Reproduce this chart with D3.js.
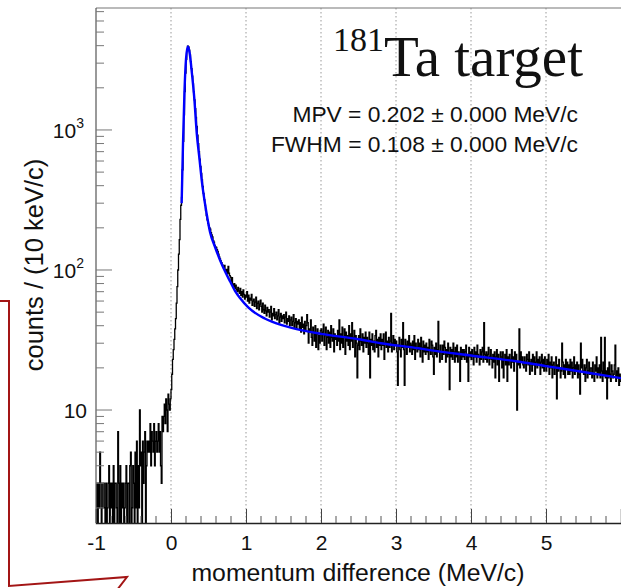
<!DOCTYPE html>
<html>
<head>
<meta charset="utf-8">
<script src="https://cdn.jsdelivr.net/npm/d3@7"></script>
<style>
  body { margin: 0; background: white; }
  svg { display: block; }
</style>
</head>
<body>
<div id="chart"></div>
<script>

// histogram: 10 keV/c bins starting at -1 MeV/c (counts)
const binStart = -1.0;
const binWidth = 0.01;

// -1.0 ... -0.01
const countsBelow = [
    2, 3, 1, 3, 2, 5, 3, 0, 2, 3,
    3, 2, 0, 3, 1, 2, 3, 4, 1, 3,
    2, 3, 1, 4, 0, 3, 3, 2, 1, 7,
    3, 1, 4, 0, 3, 2, 3, 0, 2, 3,
    4, 1, 3, 3, 0, 4, 5, 1, 2, 4,
    3, 1, 5, 2, 6, 0, 4, 2, 10, 4,
    5, 1, 6, 3, 5, 7, 0, 4, 6, 5,
    6, 5, 8, 4, 7, 6, 5, 8, 4, 6,
    7, 5, 6, 8, 5, 7, 4, 3, 9, 7,
    9, 11, 8, 12, 10, 7, 13, 11, 10, 12
];

// 0.00 ... 0.49
const countsPeak = [
    14, 18, 23, 27, 32, 38, 45, 58, 76, 100,
    130, 165, 230, 290, 330, 520, 830, 1280, 1880, 2550,
    3200, 3680, 3960, 3920, 3720, 3430, 3080, 2740, 2420, 2130,
    1870, 1640, 1420, 1230, 1060, 920, 800, 700, 620, 550,
    490, 440, 395, 352, 318, 290, 265, 245, 228, 215
];

// 0.50 ... 1.99
const countsTail = [
    208, 200, 196, 185, 178, 172, 162, 158, 150, 146,
    145, 140, 136, 130, 124, 120, 116, 113, 109, 106,
    103, 108, 100, 97, 101, 94, 106, 95, 91, 89,
    82, 88, 79, 76, 80, 74, 78, 72, 70, 75,
    71, 68, 74, 66, 70, 64, 72, 67, 62, 66,
    64, 70, 60, 66, 58, 63, 61, 67, 56, 60,
    62, 55, 59, 64, 53, 58, 60, 52, 57, 61,
    55, 50, 58, 52, 49, 56, 51, 47, 54, 50,
    52, 46, 50, 55, 44, 49, 47, 53, 45, 48,
    50, 44, 47, 52, 42, 46, 49, 43, 47, 45,
    48, 42, 46, 50, 41, 45, 43, 47, 40, 44,
    46, 40, 43, 48, 39, 42, 45, 38, 43, 41,
    44, 38, 42, 36, 46, 39, 41, 35, 43, 37,
    40, 48, 42, 30, 38, 36, 44, 33, 29, 39,
    36, 31, 40, 28, 35, 38, 27, 34, 30, 37
];

// 2.00 ... 5.99
const countsFlat = [
    38, 31, 36, 41, 29, 34, 39, 27, 33, 37,
    30, 36, 28, 40, 33, 31, 38, 26, 35, 32,
    34, 29, 37, 31, 44, 27, 35, 30, 39, 28,
    33, 38, 25, 36, 31, 34, 29, 40, 27, 35,
    31, 42, 28, 33, 37, 24, 34, 30, 17, 29,
    34, 27, 38, 31, 29, 35, 26, 33, 30, 36,
    28, 33, 30, 25, 36, 17, 32, 29, 35, 27,
    31, 26, 34, 37, 28, 32, 24, 33, 29, 35,
    27, 32, 29, 35, 23, 30, 36, 28, 31, 26,
    33, 28, 31, 49, 26, 30, 34, 27, 32, 29,
    31, 26, 15, 29, 33, 27, 24, 32, 28, 42,
    27, 15, 32, 29, 25, 31, 28, 34, 26, 30,
    29, 25, 31, 27, 34, 23, 30, 28, 26, 32,
    27, 30, 24, 33, 28, 22, 31, 26, 29, 25,
    30, 26, 28, 23, 32, 27, 25, 31, 29, 24,
    18, 28, 25, 30, 24, 27, 43, 26, 22, 29,
    26, 23, 29, 25, 31, 28, 22, 27, 24, 30,
    25, 14, 28, 24, 27, 23, 30, 26, 22, 28,
    24, 29, 22, 26, 25, 16, 28, 23, 27, 24,
    27, 23, 26, 29, 22, 25, 16, 28, 24, 26,
    23, 27, 25, 21, 28, 24, 26, 22, 29, 25,
    24, 21, 27, 23, 26, 28, 22, 42, 25, 23,
    26, 22, 25, 28, 21, 24, 27, 23, 20, 25,
    22, 26, 17, 24, 27, 21, 25, 16, 23, 26,
    24, 20, 26, 17, 23, 25, 21, 27, 16, 24,
    21, 25, 23, 20, 27, 22, 24, 19, 26, 23,
    25, 10, 22, 21, 38, 20, 26, 22, 24, 21,
    20, 24, 22, 19, 25, 23, 21, 26, 18, 22,
    23, 19, 25, 21, 24, 18, 22, 26, 20, 23,
    21, 24, 18, 22, 25, 20, 23, 19, 24, 21,
    19, 23, 21, 25, 18, 22, 20, 24, 17, 21,
    22, 18, 20, 24, 12, 21, 19, 23, 20, 17,
    19, 30, 22, 18, 21, 17, 23, 20, 22, 18,
    21, 18, 23, 19, 22, 17, 20, 24, 18, 21,
    19, 22, 17, 21, 18, 13, 30, 20, 23, 19,
    18, 21, 16, 20, 23, 17, 19, 22, 18, 20,
    20, 17, 22, 18, 16, 21, 19, 24, 17, 20,
    18, 21, 17, 33, 19, 16, 22, 18, 33, 17,
    19, 12, 20, 17, 22, 18, 16, 21, 19, 17,
    18, 21, 29, 16, 19, 17, 20, 15, 18, 16
];

// fitted curve (blue)
const fitX = [0.142, 0.16, 0.18, 0.20, 0.225, 0.25, 0.28, 0.31, 0.343, 0.38, 0.409, 0.476, 0.52, 0.587,
              0.653, 0.72, 0.787, 0.853, 0.92, 1.03, 1.25, 1.5, 1.75, 2.0, 2.5, 2.8, 3.3, 3.45, 4.0,
              4.6, 5.0, 5.5, 6.0];
const fitY = [300, 800, 1900, 3200, 3950, 3500, 2500, 1700, 950, 620, 440, 251, 187, 146,
              118, 98, 83, 71, 63, 54, 45, 40, 37, 35, 32, 30, 27.6, 26.8, 24.5,
              22.3, 20.6, 18.7, 16.9];

const xTicks = [-1, 0, 1, 2, 3, 4, 5];
const yTicksMajor = [10, 100, 1000];
const yTickLabels = ["10", "10|2", "10|3"];
const fitLines = ["MPV = 0.202 \u00b1 0.000 MeV/c", "FWHM = 0.108 \u00b1 0.000 MeV/c"];

const W = 621, H = 588;
const margin = {top: 8, right: 0, bottom: 65, left: 96};
const sans = "'Liberation Sans', Arial, Helvetica, sans-serif";

const svg = d3.select("#chart").append("svg")
    .attr("width", W)
    .attr("height", H);

const x = d3.scaleLinear().domain([-1, 6]).range([margin.left, W - margin.right]);
const y = d3.scaleLog().domain([1.56, 7430]).range([H - margin.bottom, margin.top]);
const yBottom = y.range()[0], yTop = y.range()[1];

// dark red callout outline on the left
svg.append("path")
    .attr("d", "M0,301 L9,301 L9,586 L127,577 L117,590")
    .attr("fill", "none")
    .attr("stroke", "#a31515")
    .attr("stroke-width", 2);

svg.append("clipPath").attr("id", "plotClip")
    .append("rect")
    .attr("x", margin.left).attr("y", yTop)
    .attr("width", W - margin.left).attr("height", yBottom - yTop);

// dotted grid
svg.append("g")
    .selectAll("line")
    .data(xTicks.filter(d => d > -1))
    .enter().append("line")
    .attr("x1", d => x(d)).attr("x2", d => x(d))
    .attr("y1", yTop).attr("y2", yBottom)
    .attr("stroke", "#999")
    .attr("stroke-width", 1)
    .attr("stroke-dasharray", "1.5,2.5");

// histogram
const counts = countsBelow.concat(countsPeak, countsTail, countsFlat);
const histPts = counts.map((c, i) => [binStart + i * binWidth, c]);
histPts.push([binStart + counts.length * binWidth, counts[counts.length - 1]]);

const yMin = y.domain()[0];
const histLine = d3.line()
    .x(d => x(d[0]))
    .y(d => y(Math.max(d[1], yMin)))
    .curve(d3.curveStepAfter);

svg.append("path")
    .datum(histPts)
    .attr("clip-path", "url(#plotClip)")
    .attr("d", histLine)
    .attr("fill", "none")
    .attr("stroke", "#000")
    .attr("stroke-width", 1.3);

// fit
const fitLine = d3.line()
    .x(d => x(d[0]))
    .y(d => y(d[1]))
    .curve(d3.curveMonotoneX);

svg.append("path")
    .datum(fitX.map((v, i) => [v, fitY[i]]))
    .attr("clip-path", "url(#plotClip)")
    .attr("d", fitLine)
    .attr("fill", "none")
    .attr("stroke", "#0000ff")
    .attr("stroke-width", 2.4);

// frame (left + top)
svg.append("line")
    .attr("x1", margin.left).attr("x2", W)
    .attr("y1", yTop).attr("y2", yTop)
    .attr("stroke", "#777").attr("stroke-width", 1.2);
svg.append("line")
    .attr("x1", margin.left).attr("x2", margin.left)
    .attr("y1", yTop).attr("y2", yBottom)
    .attr("stroke", "#555").attr("stroke-width", 1.2);

// x axis, ROOT style ticks pointing inward
const xAxis = d3.axisBottom(x)
    .tickValues(xTicks)
    .tickSize(-14)
    .tickPadding(12)
    .tickFormat(d => d);

const gx = svg.append("g")
    .attr("transform", `translate(0,${yBottom})`)
    .call(xAxis);
gx.select(".domain").attr("stroke", "#222").attr("stroke-width", 1.4);
gx.selectAll(".tick line").attr("stroke", "#444");
gx.selectAll(".tick text")
    .attr("font-family", sans)
    .attr("font-size", 21)
    .attr("fill", "#111");

const xMinor = d3.range(-1, 6.01, 0.2).filter(v => Math.abs(v - Math.round(v)) > 0.01);
svg.append("g")
    .selectAll("line")
    .data(xMinor)
    .enter().append("line")
    .attr("x1", d => x(d)).attr("x2", d => x(d))
    .attr("y1", yBottom).attr("y2", yBottom - 7)
    .attr("stroke", "#555");

// y axis
const yMinor = [];
[1, 10, 100, 1000].forEach(dec => {
    for (let k = 2; k <= 9; k++) {
        const v = k * dec;
        if (v > y.domain()[0] && v < y.domain()[1]) yMinor.push(v);
    }
});

svg.append("g")
    .selectAll("line")
    .data(yMinor)
    .enter().append("line")
    .attr("x1", margin.left).attr("x2", margin.left + 8)
    .attr("y1", d => y(d)).attr("y2", d => y(d))
    .attr("stroke", "#777");

svg.append("g")
    .selectAll("line")
    .data(yTicksMajor)
    .enter().append("line")
    .attr("x1", margin.left).attr("x2", margin.left + 16)
    .attr("y1", d => y(d)).attr("y2", d => y(d))
    .attr("stroke", "#777");

const yLab = svg.append("g")
    .selectAll("text")
    .data(yTicksMajor)
    .enter().append("text")
    .attr("x", (d, i) => i === 0 ? 87 : 84)
    .attr("y", d => y(d))
    .attr("dy", "0.36em")
    .attr("text-anchor", "end")
    .attr("font-family", sans)
    .attr("font-size", 21)
    .attr("fill", "#111");

yLab.each(function(d, i) {
    const parts = yTickLabels[i].split("|");
    const t = d3.select(this);
    t.append("tspan").text(parts[0]);
    if (parts[1]) {
        t.append("tspan")
            .attr("font-size", 14)
            .attr("dy", "-0.7em")
            .text(parts[1]);
    }
});

// axis titles
svg.append("text")
    .attr("x", 358)
    .attr("y", 581)
    .attr("text-anchor", "middle")
    .attr("font-family", sans)
    .attr("font-size", 24.8)
    .attr("fill", "#111")
    .text("momentum difference (MeV/c)");

svg.append("text")
    .attr("transform", "translate(43,265) rotate(-90)")
    .attr("text-anchor", "middle")
    .attr("font-family", sans)
    .attr("font-size", 25.5)
    .attr("fill", "#111")
    .text("counts / (10 keV/c)");

// title
const title = svg.append("text")
    .attr("x", 583)
    .attr("y", 76)
    .attr("text-anchor", "end")
    .attr("font-family", "'Liberation Serif', 'Times New Roman', serif")
    .attr("font-size", 57)
    .attr("fill", "#111");
title.append("tspan")
    .attr("font-size", 34)
    .attr("dy", "-0.75em")
    .text("181");
title.append("tspan")
    .attr("dy", "0.45em")
    .text("Ta target");

// fit results
svg.append("g")
    .selectAll("text")
    .data(fitLines)
    .enter().append("text")
    .attr("x", 578)
    .attr("y", (d, i) => 122 + i * 30)
    .attr("text-anchor", "end")
    .attr("font-family", sans)
    .attr("font-size", 22.8)
    .attr("fill", "#111")
    .text(d => d);

</script>
</body>
</html>
